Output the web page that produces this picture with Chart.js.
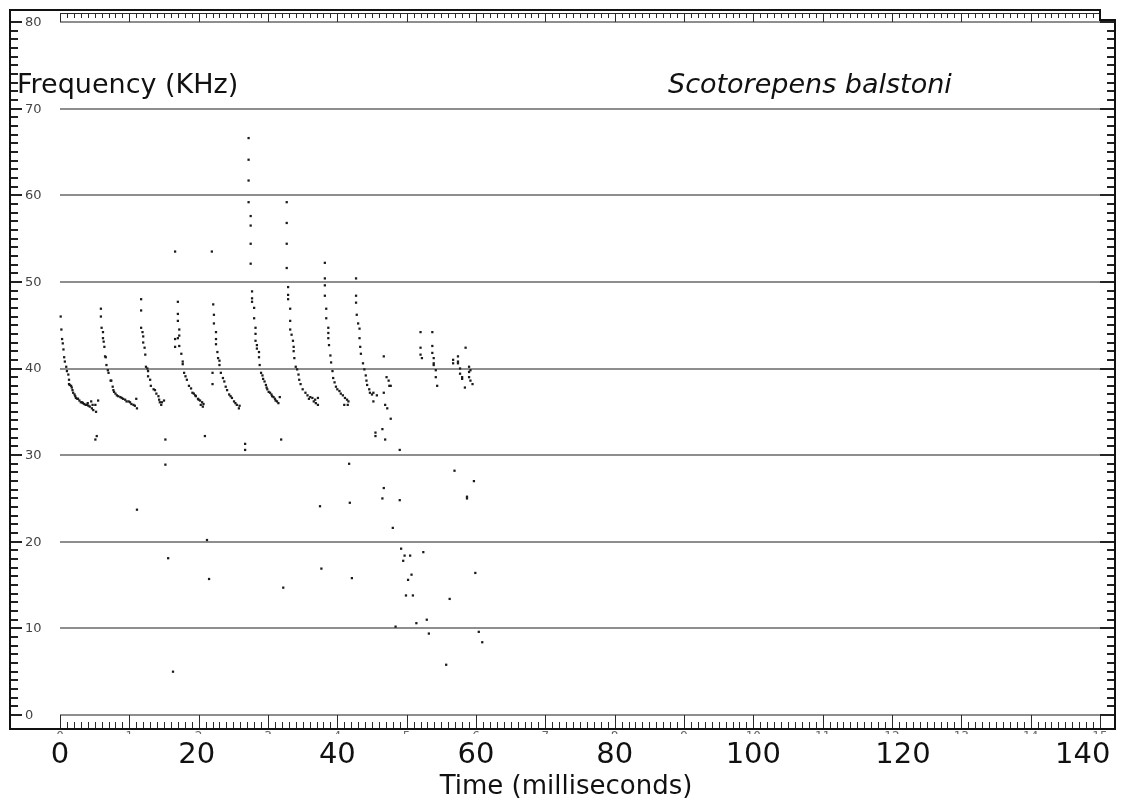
<!DOCTYPE html>
<html>
<head>
<meta charset="utf-8">
<title>Scotorepens balstoni</title>
<script src="https://cdn.jsdelivr.net/npm/chart.js@4.4.1/dist/chart.umd.min.js"></script>
<style>
  html, body { margin: 0; padding: 0; background: #fff; }
  canvas { display: block; }
</style>
</head>
<body>
<canvas id="sonogram" width="1121" height="803"></canvas>
<script>
// echolocation pulses, each point is [time (ms), frequency (kHz)]
const call1 = [[0.1,46.0],[0.2,44.5],[0.3,43.4],[0.4,42.9],[0.5,42.2],[0.6,41.3],[0.7,40.8],[0.9,40.2],[1.0,39.7],[1.2,39.3],[1.3,38.7],[1.3,38.2],[1.4,38.1],[1.6,38.0],[1.7,37.8],[1.8,37.5],[1.9,37.2],[2.1,37.0],[2.2,36.8],[2.3,36.6],[2.5,36.5],[2.6,36.5],[2.8,36.3],[3.0,36.1],[3.2,36.1],[3.3,36.0],[3.5,35.9],[3.7,35.8],[3.9,35.8],[4.0,36.0],[4.1,35.7],[4.3,35.6],[4.5,36.2],[4.6,35.4],[4.7,35.8],[4.8,35.2],[5.1,35.8],[5.2,35.0],[5.5,36.3]];
const call2 = [[5.9,46.9],[5.9,46.0],[6.0,44.7],[6.2,44.2],[6.2,43.5],[6.3,43.1],[6.4,42.5],[6.5,41.4],[6.6,41.3],[6.7,40.4],[6.9,39.8],[7.0,39.5],[7.3,38.6],[7.4,38.6],[7.6,37.9],[7.7,37.5],[7.8,37.3],[8.0,37.1],[8.2,36.9],[8.4,36.8],[8.7,36.7],[8.9,36.6],[9.1,36.5],[9.4,36.4],[9.6,36.2],[9.9,36.2],[10.1,36.1],[10.3,35.9],[10.6,35.8],[10.8,35.7],[11.0,36.5],[11.1,35.4]];
const call3 = [[11.7,48.0],[11.7,46.7],[11.7,44.7],[11.9,44.2],[12.0,43.7],[12.0,43.0],[12.2,42.4],[12.3,41.6],[12.4,40.2],[12.6,40.0],[12.7,39.7],[12.7,39.1],[13.0,38.7],[13.1,38.0],[13.5,37.6],[13.7,37.5],[13.9,37.1],[14.2,36.8],[14.3,36.4],[14.4,36.1],[14.6,35.8],[14.7,36.1],[15.0,36.3]];
const call4 = [[17.0,47.7],[17.0,46.3],[17.0,45.5],[17.2,44.5],[17.2,43.8],[16.6,43.4],[17.0,43.5],[16.6,42.5],[17.2,42.6],[17.5,41.7],[17.7,40.8],[17.7,40.5],[17.9,39.5],[18.1,39.1],[18.3,38.7],[18.6,38.0],[18.9,37.7],[19.1,37.2],[19.3,37.1],[19.5,36.9],[19.6,36.8],[19.9,36.5],[20.0,36.4],[20.2,36.3],[20.3,35.8],[20.5,36.1],[20.6,35.6],[20.7,35.9]];
const call5 = [[22.1,47.4],[22.2,46.2],[22.2,45.2],[22.5,44.2],[22.5,43.4],[22.5,42.8],[22.7,41.9],[22.8,41.2],[23.0,40.9],[23.0,40.4],[22.0,39.5],[22.0,38.2],[23.2,39.5],[23.5,38.9],[23.7,38.5],[23.9,37.9],[24.1,37.5],[24.4,37.0],[24.6,36.8],[24.8,36.6],[25.1,36.2],[25.3,36.0],[25.5,35.8],[25.8,35.4],[25.9,35.7]];
const call6 = [[27.2,66.6],[27.2,64.1],[27.2,61.7],[27.2,59.2],[27.5,57.6],[27.5,56.5],[27.5,54.4],[27.5,52.1],[27.7,48.9],[27.7,48.1],[27.7,47.7],[28.0,47.0],[28.0,45.8],[28.2,44.7],[28.2,44.0],[28.2,43.2],[28.4,42.7],[28.4,42.3],[28.7,41.9],[28.7,41.3],[28.8,40.4],[29.0,39.5],[29.2,39.2],[29.3,38.8],[29.5,38.5],[29.7,38.1],[29.8,37.8],[29.9,37.6],[30.1,37.3],[30.3,37.2],[30.5,37.0],[30.6,36.8],[30.8,36.7],[31.0,36.5],[31.1,36.3],[31.3,36.2],[31.5,36.0],[31.7,36.7]];
const call7 = [[32.7,59.2],[32.7,56.8],[32.7,54.4],[32.7,51.6],[32.9,49.4],[32.9,48.5],[32.9,48.0],[33.2,46.9],[33.2,45.5],[33.2,44.5],[33.4,43.9],[33.6,43.2],[33.7,42.5],[33.7,42.0],[33.8,41.2],[34.0,40.2],[34.2,39.9],[34.4,39.3],[34.5,38.7],[34.7,38.2],[35.0,37.6],[35.4,37.2],[35.7,36.9],[35.9,36.5],[36.1,36.7],[36.4,36.6],[36.6,36.2],[36.8,36.4],[36.9,36.0],[37.2,36.6],[37.2,35.8]];
const call8 = [[38.2,52.2],[38.2,50.4],[38.2,49.6],[38.2,48.4],[38.4,46.9],[38.4,45.8],[38.7,44.7],[38.7,44.1],[38.7,43.5],[38.8,42.7],[39.0,41.5],[39.1,40.7],[39.3,39.7],[39.4,38.9],[39.6,38.4],[39.8,37.9],[40.0,37.6],[40.3,37.4],[40.5,37.1],[40.8,36.9],[41.1,36.6],[41.4,36.4],[41.6,36.2],[41.0,35.8],[41.5,35.8]];
const call9 = [[42.7,50.4],[42.7,48.4],[42.7,47.6],[42.8,46.2],[43.0,45.2],[43.2,44.6],[43.2,43.5],[43.3,42.5],[43.4,41.7],[43.7,40.6],[43.9,39.9],[44.1,39.2],[44.2,38.6],[44.3,38.1],[44.6,37.6],[44.7,37.2],[45.0,37.0],[45.2,37.2],[45.2,36.2],[45.7,36.9]];
// broken pulses at the end of the sequence
const call10 = [[52.0,44.2],[52.0,42.4],[52.0,41.6],[52.2,41.2],[53.7,44.2],[53.7,42.6],[53.7,41.8],[53.9,41.2],[53.9,40.6],[53.9,40.4],[54.2,39.8],[54.2,39.0],[54.4,38.0]];
const call11 = [[58.5,42.4],[57.4,41.4],[56.7,41.0],[56.7,40.6],[57.4,40.8],[57.4,40.6],[57.7,40.0],[59.0,40.2],[59.2,39.8],[57.7,39.4],[58.0,39.0],[58.0,38.8],[59.0,39.6],[59.0,39.0],[59.2,38.6],[59.5,38.2],[58.4,37.8]];
// harmonics / noise
const tail = [[46.7,41.4],[47.1,39.0],[47.4,38.6],[47.5,38.0],[47.7,38.0],[46.7,37.2],[46.9,35.8],[47.2,35.4],[47.7,34.2],[46.5,33.0],[46.9,31.8],[49.0,30.6],[46.7,26.2],[46.5,25.0],[49.0,24.8],[48.0,21.6],[49.2,19.2],[49.7,18.4],[50.5,18.4],[49.5,17.8],[52.4,18.8],[50.7,16.2],[50.2,15.6],[59.9,16.4],[49.9,13.8],[50.9,13.8],[56.2,13.4],[52.9,11.0],[51.4,10.6],[48.4,10.2],[53.2,9.4],[60.4,9.6],[60.9,8.4],[56.9,28.2],[59.7,27.0],[58.7,25.2],[58.7,25.0],[55.7,5.8]];
const strays = [[5.1,31.8],[5.3,32.2],[11.1,23.7],[16.6,53.5],[21.9,53.5],[15.2,31.8],[15.2,28.9],[15.6,18.1],[16.3,5.0],[20.9,32.2],[21.2,20.2],[21.5,15.7],[26.7,31.3],[26.7,30.6],[31.9,31.8],[32.2,14.7],[37.5,24.1],[37.7,16.9],[41.7,29.0],[41.8,24.5],[42.1,15.8],[45.5,32.6],[45.5,32.2]];

const pulses = [call1, call2, call3, call4, call5, call6, call7, call8, call9, call10, call11, tail, strays];

const timeMax = 150;
const freqMax = 80;
const freqGrid = [10, 20, 30, 40, 50, 60, 70];
const freqLabels = [0, 10, 20, 30, 40, 50, 60, 70, 80];
const timeLabels = [0, 20, 40, 60, 80, 100, 120, 140];
const timeLabelShift = [0, -2, 0, 0, 0, 0, 11, 52];

const FONT = '"DejaVu Sans", Verdana, sans-serif';

function seg(ctx, x1, y1, x2, y2) {
  ctx.beginPath();
  ctx.moveTo(x1, y1);
  ctx.lineTo(x2, y2);
  ctx.stroke();
}

// frame, rulers and grid in the style of the sonogram printout
const framePlugin = {
  id: 'framePlugin',
  beforeDatasetsDraw(chart) {
    const { ctx, scales: { x, y } } = chart;
    const x0 = Math.round(x.getPixelForValue(0));
    const x1 = Math.round(x.getPixelForValue(timeMax));
    const yTop = Math.round(y.getPixelForValue(freqMax));
    const yBot = Math.round(y.getPixelForValue(0));
    const L = 10, R = 1115, T = 10, B = 729;

    ctx.save();

    // grey frequency lines
    ctx.strokeStyle = '#8e8e8e';
    ctx.lineWidth = 2;
    [0, ...freqGrid, freqMax].forEach(v => {
      const py = Math.round(y.getPixelForValue(v));
      seg(ctx, x0, py, x1, py);
    });

    // time rulers top and bottom
    ctx.strokeStyle = '#2a2a2a';
    ctx.lineWidth = 1;
    seg(ctx, x0, 13.5, x1, 13.5);
    for (let t = 0; t <= timeMax; t++) {
      const px = Math.round(x.getPixelForValue(t)) + 0.5;
      const major = t % 10 === 0;
      seg(ctx, px, 13, px, major ? yTop : 18);
      seg(ctx, px, major ? yBot : B - 7, px, B);
    }

    // kHz ticks left and right
    ctx.lineWidth = 2;
    ctx.strokeStyle = '#222';
    for (let k = 0; k <= freqMax; k++) {
      const py = Math.round(y.getPixelForValue(k));
      const major = k % 10 === 0;
      seg(ctx, L, py, major ? L + 12 : L + 8, py);
      seg(ctx, major ? R - 15 : R - 8, py, R, py);
    }

    // outer box
    ctx.strokeStyle = '#111';
    ctx.lineWidth = 2;
    ctx.beginPath();
    ctx.moveTo(L, B);
    ctx.lineTo(L, T - 1);
    ctx.moveTo(L - 1, T);
    ctx.lineTo(x1, T);
    ctx.lineTo(x1, 20);
    ctx.lineTo(R, 20);
    ctx.lineTo(R, B);
    ctx.lineTo(L - 1, B);
    ctx.stroke();

    // ruler numbers, only their tops show under the frame
    ctx.save();
    ctx.beginPath();
    ctx.rect(0, B + 2, chart.width, 3);
    ctx.clip();
    ctx.fillStyle = '#666';
    ctx.font = '12px ' + FONT;
    ctx.textAlign = 'center';
    ctx.textBaseline = 'alphabetic';
    for (let t = 0; t <= timeMax; t += 10) {
      ctx.fillText(String(t / 10), x.getPixelForValue(t), B + 11);
    }
    ctx.restore();

    // kHz labels
    ctx.fillStyle = '#444';
    ctx.font = '13px ' + FONT;
    ctx.textAlign = 'left';
    ctx.textBaseline = 'middle';
    freqLabels.forEach(v => {
      ctx.fillText(String(v), L + 15, y.getPixelForValue(v) + 0.5);
    });

    // time labels
    ctx.fillStyle = '#111';
    ctx.font = '29px ' + FONT;
    ctx.textAlign = 'center';
    ctx.textBaseline = 'alphabetic';
    timeLabels.forEach((v, i) => {
      ctx.fillText(String(v), x.getPixelForValue(v) + timeLabelShift[i], 763);
    });
    ctx.font = '26px ' + FONT;
    ctx.fillText('Time (milliseconds)', 566, 794);

    ctx.textAlign = 'left';
    ctx.font = '27px ' + FONT;
    ctx.fillText('Frequency (KHz)', 17, 93);
    ctx.font = 'italic 27px ' + FONT;
    ctx.fillText('Scotorepens balstoni', 668, 93);

    ctx.restore();
  }
};

const chart = new Chart(document.getElementById('sonogram'), {
  type: 'scatter',
  data: {
    datasets: pulses.map((p, i) => ({
      label: 'pulse ' + (i + 1),
      data: p.map(([t, f]) => ({ x: t, y: f })),
      pointStyle: 'rect',
      pointRadius: 1.6,
      pointHoverRadius: 1.6,
      borderWidth: 0,
      backgroundColor: '#1a1a1a',
      clip: false
    }))
  },
  options: {
    responsive: false,
    animation: false,
    devicePixelRatio: 1,
    events: [],
    layout: { padding: { left: 60, right: 21, top: 22, bottom: 88 } },
    scales: {
      x: { type: 'linear', min: 0, max: timeMax, display: false },
      y: { type: 'linear', min: 0, max: freqMax, display: false }
    },
    plugins: {
      legend: { display: false },
      tooltip: { enabled: false }
    }
  },
  plugins: [framePlugin]
});
</script>
</body>
</html>
